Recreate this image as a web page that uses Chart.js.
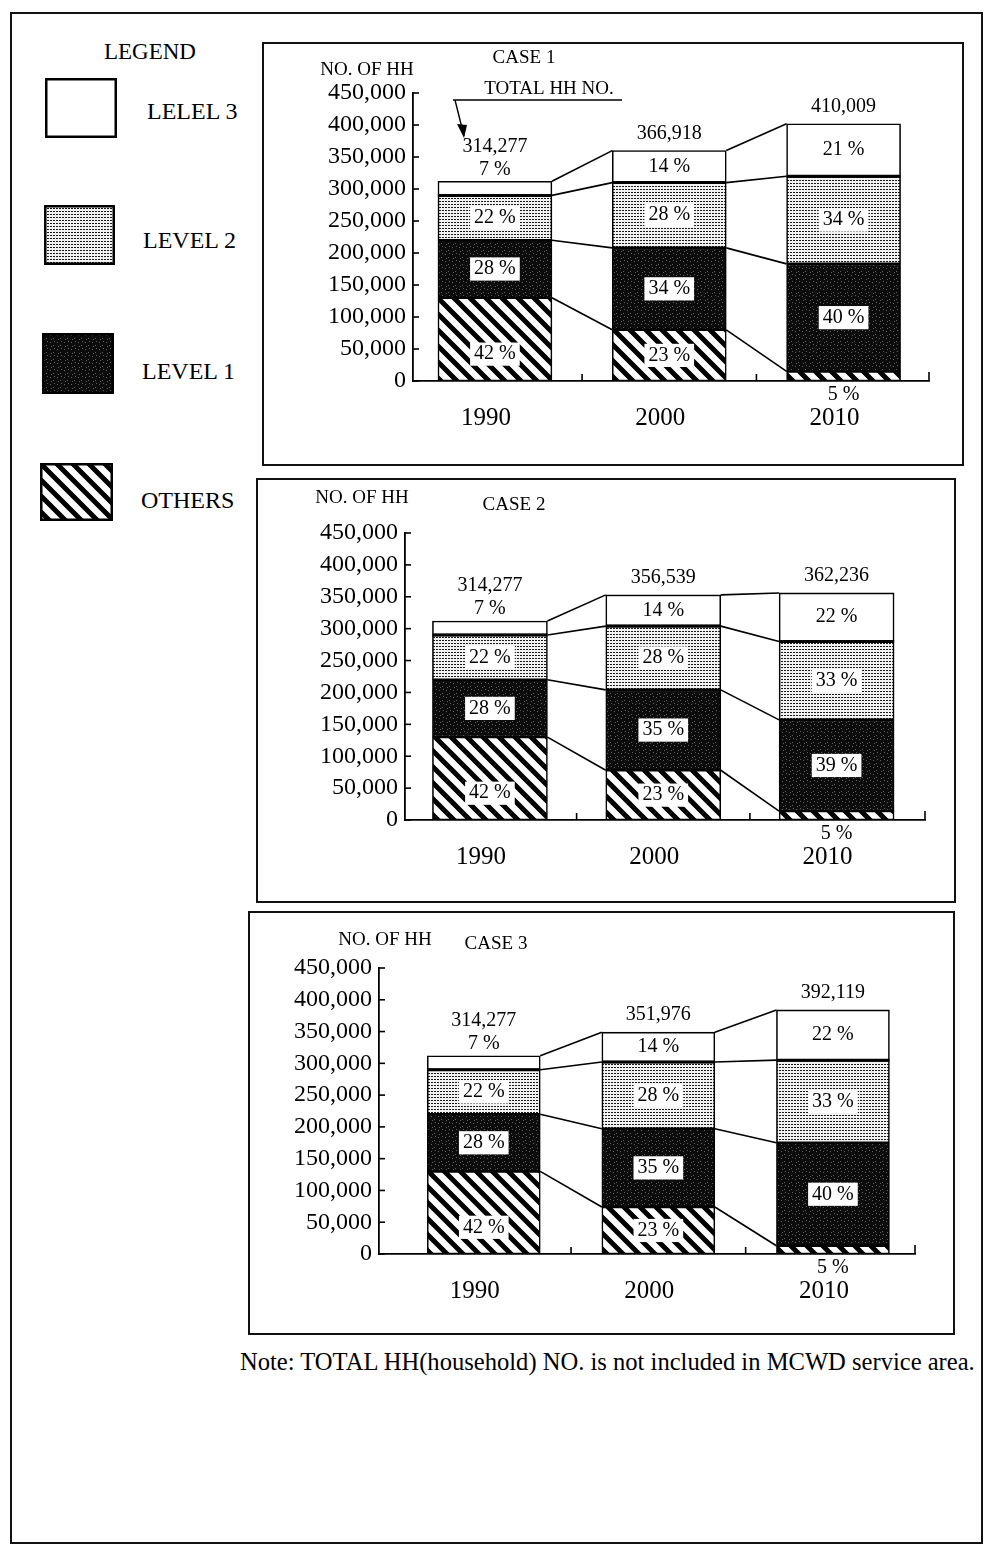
<!DOCTYPE html>
<html>
<head>
<meta charset="utf-8">
<script src="https://cdn.jsdelivr.net/npm/chart.js@4.4.1/dist/chart.umd.min.js"></script>
<style>
  body { margin: 0; background: #fff; width: 998px; height: 1552px; position: relative; overflow: hidden;
         font-family: "Liberation Serif", "Times New Roman", serif; color: #000; }
  canvas { position: absolute; }
  .frame { position: absolute; border: 2px solid #111; box-sizing: border-box; pointer-events: none; }
  .lab { position: absolute; font-size: 24px; line-height: 1; white-space: nowrap; transform: translateY(-50%); }
</style>
</head>
<body>
<div class="frame" style="left:10px;top:12px;width:973px;height:1532px;"></div>

<div class="lab" style="left:104px;top:51px;font-size:23px;">LEGEND</div>
<div class="lab" style="left:147px;top:111px;">LELEL 3</div>
<div class="lab" style="left:143px;top:240px;">LEVEL 2</div>
<div class="lab" style="left:142px;top:371px;">LEVEL 1</div>
<div class="lab" style="left:141px;top:500px;">OTHERS</div>

<canvas id="case1"></canvas>
<canvas id="case2"></canvas>
<canvas id="case3"></canvas>

<div class="frame" id="box1"></div>
<div class="frame" id="box2"></div>
<div class="frame" id="box3"></div>

<div class="lab" id="note" style="left:240px;top:1362px;">Note: TOTAL HH(household) NO. is not included in MCWD service area.</div>

<script>
// ---- datos ----
const years = [1990, 2000, 2010];
const seriesNames = ['OTHERS', 'LEVEL 1', 'LEVEL 2', 'LELEL 3'];

// CASE 1
const case1Totals = ['314,277', '366,918', '410,009'];
const case1Others = [130000, 80000, 15000];
const case1Level1 = [90000, 128000, 168000];
const case1Level2 = [70000, 102000, 137000];
const case1Level3 = [22000, 50000, 82000];
const case1PctOthers = [42, 23, 5];
const case1PctLevel1 = [28, 34, 40];
const case1PctLevel2 = [22, 28, 34];
const case1PctLevel3 = [7, 14, 21];

// CASE 2
const case2Totals = ['314,277', '356,539', '362,236'];
const case2Others = [130000, 78000, 14000];
const case2Level1 = [90000, 126000, 143000];
const case2Level2 = [70000, 100000, 123000];
const case2Level3 = [22000, 49000, 76000];
const case2PctOthers = [42, 23, 5];
const case2PctLevel1 = [28, 35, 39];
const case2PctLevel2 = [22, 28, 33];
const case2PctLevel3 = [7, 14, 22];

// CASE 3
const case3Totals = ['314,277', '351,976', '392,119'];
const case3Others = [130000, 74000, 13000];
const case3Level1 = [90000, 123000, 162000];
const case3Level2 = [70000, 105000, 130000];
const case3Level3 = [22000, 47000, 79000];
const case3PctOthers = [42, 23, 5];
const case3PctLevel1 = [28, 35, 40];
const case3PctLevel2 = [22, 28, 33];
const case3PctLevel3 = [7, 14, 22];

const FONT = '"Liberation Serif", "Times New Roman", serif';

// ---- tramas ----
function makePattern(kind) {
    const c = document.createElement('canvas');
    let g;
    if (kind === 'stripes') {
        c.width = c.height = 16;
        g = c.getContext('2d');
        g.fillStyle = '#fff';
        g.fillRect(0, 0, 16, 16);
        g.strokeStyle = '#000';
        g.lineWidth = 5;
        g.beginPath();
        [-16, 0, 16].forEach(o => { g.moveTo(o - 4, -4); g.lineTo(o + 20, 20); });
        g.stroke();
    } else if (kind === 'dots') {
        c.width = c.height = 3;
        g = c.getContext('2d');
        g.fillStyle = '#f2f2f2';
        g.fillRect(0, 0, 3, 3);
        g.fillStyle = '#1a1a1a';
        g.fillRect(0, 0, 2, 1);
    } else {
        c.width = c.height = 7;
        g = c.getContext('2d');
        g.fillStyle = '#0c0c0c';
        g.fillRect(0, 0, 7, 7);
        g.fillStyle = '#5e5e5e';
        [[1, 2], [4, 5], [5, 1], [2, 6]].forEach(p => g.fillRect(p[0], p[1], 1, 1));
    }
    return document.createElement('canvas').getContext('2d').createPattern(c, 'repeat');
}
const fills = [makePattern('stripes'), makePattern('dark'), makePattern('dots'), '#fff'];

// ---- leyenda ----
const swatches = [[45, 78, 72, 60], [44, 205, 71, 60], [42, 333, 72, 61], [40, 463, 73, 58]];
[3, 2, 1, 0].forEach((k, j) => {
    const [l, t, w, h] = swatches[j];
    const c = document.createElement('canvas');
    c.width = w; c.height = h;
    c.style.left = l + 'px'; c.style.top = t + 'px';
    const g = c.getContext('2d');
    g.fillStyle = fills[k];
    g.fillRect(0, 0, w, h);
    g.strokeStyle = '#000';
    g.lineWidth = 2.5;
    g.strokeRect(1.25, 1.25, w - 2.5, h - 2.5);
    document.body.appendChild(c);
});

// ---- etiquetas ----
function label(ctx, s, x, y, size, boxed) {
    ctx.font = size + 'px ' + FONT;
    ctx.textAlign = 'center';
    ctx.textBaseline = 'middle';
    if (boxed) {
        const w = ctx.measureText(s).width + 8;
        ctx.fillStyle = '#fff';
        ctx.fillRect(x - w / 2, y - size * 0.58, w, size * 1.16);
    }
    ctx.fillStyle = '#000';
    ctx.fillText(s, x, y);
}

const annot = {
    id: 'annot',
    afterDatasetsDraw(chart, args, opts) {
        const { ctx, chartArea } = chart;
        const L = opts.layout;
        const ys = chart.scales.y, xs = chart.scales.x;
        const metas = [0, 1, 2, 3].map(k => chart.getDatasetMeta(k));
        const ox = L.box[0], oy = L.box[1];
        ctx.save();

        // líneas entre barras
        ctx.strokeStyle = '#000';
        ctx.lineWidth = 1.6;
        for (let k = 0; k < 4; k++) {
            for (let i = 0; i < years.length - 1; i++) {
                const a = metas[k].data[i], b = metas[k].data[i + 1];
                ctx.beginPath();
                ctx.moveTo(a.x + a.width / 2, a.y);
                ctx.lineTo(b.x - b.width / 2, b.y);
                ctx.stroke();
            }
        }

        // borde grueso entre LEVEL 2 y LEVEL 3
        ctx.lineWidth = 3;
        metas[2].data.forEach(el => {
            ctx.beginPath();
            ctx.moveTo(el.x - el.width / 2, el.y);
            ctx.lineTo(el.x + el.width / 2, el.y);
            ctx.stroke();
        });
        ctx.lineWidth = 1.6;

        // marcas de los ejes
        for (let v = 0; v <= 450000; v += 50000) {
            const py = ys.getPixelForValue(v);
            ctx.beginPath();
            ctx.moveTo(chartArea.left, py);
            ctx.lineTo(chartArea.left + 6, py);
            ctx.stroke();
        }
        [1995, 2005].forEach(v => {
            const px = xs.getPixelForValue(v);
            ctx.beginPath();
            ctx.moveTo(px, chartArea.bottom);
            ctx.lineTo(px, chartArea.bottom - 7);
            ctx.stroke();
        });
        ctx.beginPath();
        ctx.moveTo(chartArea.right, chartArea.bottom);
        ctx.lineTo(chartArea.right, chartArea.bottom - 9);
        ctx.stroke();

        // porcentajes y totales
        years.forEach((yr, i) => {
            const bx = metas[0].data[i].x;
            const oth = metas[0].data[i], l1 = metas[1].data[i], l2 = metas[2].data[i], l3 = metas[3].data[i];
            const p = opts.pcts;

            if (oth.base - oth.y > 24) {
                const v = Math.min(opts.vals[0][i] / 2, 42000);
                label(ctx, p[0][i] + ' %', bx, ys.getPixelForValue(v), 20, true);
            } else {
                label(ctx, p[0][i] + ' %', bx, chartArea.bottom + 14, 20, false);
            }
            label(ctx, p[1][i] + ' %', bx, (l1.y + l1.base) / 2, 20, true);
            label(ctx, p[2][i] + ' %', bx, (l2.y + l2.base) / 2, 20, true);

            const small = l3.base - l3.y < 24;
            if (small) {
                label(ctx, p[3][i] + ' %', bx, l3.y - 12, 20, false);
                label(ctx, opts.totals[i], bx, l3.y - 35, 20, false);
            } else {
                label(ctx, p[3][i] + ' %', bx, (l3.y + l3.base) / 2, 20, false);
                label(ctx, opts.totals[i], bx, l3.y - 17, 20, false);
            }
        });

        // títulos
        label(ctx, 'NO. OF HH', L.yTitle[0] - ox, L.yTitle[1] - oy, 19, false);
        label(ctx, L.title, L.titleXY[0] - ox, L.titleXY[1] - oy, 19, false);

        if (L.totalNote) {
            label(ctx, 'TOTAL HH NO.', 549 - ox, 89 - oy, 19, false);
            ctx.lineWidth = 1.4;
            ctx.beginPath();
            ctx.moveTo(453 - ox, 100 - oy);
            ctx.lineTo(622 - ox, 100 - oy);
            ctx.moveTo(455 - ox, 100 - oy);
            ctx.lineTo(464 - ox, 136 - oy);
            ctx.stroke();
            ctx.beginPath();
            ctx.moveTo(464 - ox, 138 - oy);
            ctx.lineTo(457 - ox, 124 - oy);
            ctx.lineTo(467 - ox, 125 - oy);
            ctx.closePath();
            ctx.fillStyle = '#000';
            ctx.fill();
        }
        ctx.restore();
    }
};

// ---- gráficos ----
function buildChart(id, boxId, L, vals, pcts, totals) {
    const [bl, bt, br, bb] = L.box;
    const canvas = document.getElementById(id);
    canvas.width = br - bl;
    canvas.height = bb - bt;
    canvas.style.left = bl + 'px';
    canvas.style.top = bt + 'px';
    const box = document.getElementById(boxId);
    box.style.left = bl + 'px';
    box.style.top = bt + 'px';
    box.style.width = (br - bl) + 'px';
    box.style.height = (bb - bt) + 'px';

    return new Chart(canvas, {
        type: 'bar',
        data: {
            datasets: seriesNames.map((name, k) => ({
                label: name,
                data: years.map((yr, i) => ({ x: yr, y: vals[k][i] })),
                backgroundColor: fills[k],
                borderColor: '#000',
                borderWidth: 1.6,
                borderSkipped: false,
                barThickness: L.barW
            }))
        },
        options: {
            responsive: false,
            animation: false,
            devicePixelRatio: 1,
            layout: { padding: { top: L.topY - bt, right: br - L.xEnd, left: 0, bottom: 0 } },
            plugins: {
                legend: { display: false },
                tooltip: { enabled: false },
                annot: { layout: L, vals: vals, pcts: pcts, totals: totals }
            },
            scales: {
                x: {
                    type: 'linear',
                    stacked: true,
                    offset: false,
                    min: L.xMin,
                    max: L.xMax,
                    grid: { display: false, drawTicks: false },
                    border: { display: true, color: '#000', width: 1.8 },
                    afterBuildTicks: s => { s.ticks = years.map(v => ({ value: v })); },
                    afterFit: s => { s.height = bb - L.zeroY; },
                    ticks: {
                        autoSkip: false,
                        maxRotation: 0,
                        color: '#000',
                        font: { family: FONT, size: 25 },
                        padding: 22,
                        labelOffset: -9,
                        callback: v => String(v)
                    }
                },
                y: {
                    stacked: true,
                    min: 0,
                    max: 450000,
                    grid: { display: false, drawTicks: false },
                    border: { display: true, color: '#000', width: 1.8 },
                    afterFit: s => { s.width = L.axisX - bl; },
                    ticks: {
                        stepSize: 50000,
                        autoSkip: false,
                        color: '#000',
                        font: { family: FONT, size: 24 },
                        padding: 7,
                        callback: v => v.toLocaleString('en-US')
                    }
                }
            }
        },
        plugins: [annot]
    });
}

const layout1 = { box: [262, 42, 964, 466], axisX: 413, zeroY: 381, topY: 93, xEnd: 929, xMin: 1985.3, xMax: 2014.9,
                  barW: 114, title: 'CASE 1', titleXY: [524, 58], yTitle: [367, 70], totalNote: true };
const layout2 = { box: [256, 478, 956, 903], axisX: 405, zeroY: 820, topY: 533, xEnd: 925, xMin: 1985.1, xMax: 2015.1,
                  barW: 115, title: 'CASE 2', titleXY: [514, 505], yTitle: [362, 498], totalNote: false };
const layout3 = { box: [248, 911, 955, 1335], axisX: 379, zeroY: 1254, topY: 968, xEnd: 915, xMin: 1984.0, xMax: 2014.7,
                  barW: 113, title: 'CASE 3', titleXY: [496, 944], yTitle: [385, 940], totalNote: false };

buildChart('case1', 'box1', layout1,
    [case1Others, case1Level1, case1Level2, case1Level3],
    [case1PctOthers, case1PctLevel1, case1PctLevel2, case1PctLevel3], case1Totals);
buildChart('case2', 'box2', layout2,
    [case2Others, case2Level1, case2Level2, case2Level3],
    [case2PctOthers, case2PctLevel1, case2PctLevel2, case2PctLevel3], case2Totals);
buildChart('case3', 'box3', layout3,
    [case3Others, case3Level1, case3Level2, case3Level3],
    [case3PctOthers, case3PctLevel1, case3PctLevel2, case3PctLevel3], case3Totals);

// ajustar la nota al ancho del original
const note = document.getElementById('note');
note.style.fontSize = '20px';
note.style.fontSize = (20 * 735 / note.offsetWidth).toFixed(2) + 'px';
</script>
</body>
</html>
